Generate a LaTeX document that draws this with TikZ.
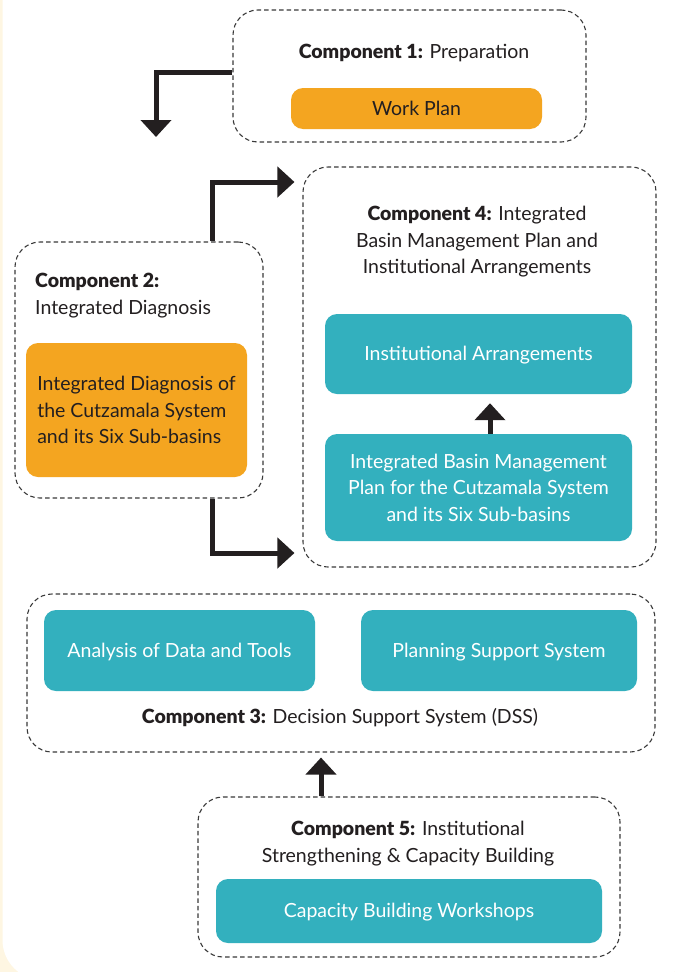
\documentclass[tikz,border=0pt]{standalone}
\usepackage{fontspec}
\setmainfont{Lato}[BoldFont={Lato Black}]
\usetikzlibrary{arrows.meta,calc}
\definecolor{cream}{HTML}{FEF6E2}
\definecolor{orng}{HTML}{F4A520}
\definecolor{teal2}{HTML}{33B0BE}
\definecolor{ink}{HTML}{231F20}
\definecolor{dashcol}{HTML}{3A3A3A}
\tikzset{
  txt/.style={font=\fontsize{19.5}{26.5}\selectfont},
  comp/.style={draw=dashcol, dash pattern=on 4.5pt off 3pt, line width=1.1pt, rounded corners=25pt, fill=white, inner sep=0pt},
  obox/.style={txt, fill=orng, rounded corners=12pt, text=ink, inner sep=0pt},
  tbox/.style={txt, fill=teal2, rounded corners=12pt, text=white, inner sep=0pt, align=center},
  oneline/.style={text height=13pt, text depth=0pt},
  flow/.style={draw=ink, line width=5pt, line join=miter, -{Triangle[width=30pt,length=17pt]}},
  ttl/.style={txt, text=ink, align=center, inner sep=0pt},
}
\begin{document}
\begin{tikzpicture}[x=1pt,y=-1pt]
\useasboundingbox (0,0) rectangle (675,972);
\fill[cream] (0,0) rectangle (675,972);
\fill[white, rounded corners=40pt] (2.5,-60) rectangle (690,980);
% Component 1
\node[comp, minimum width=353pt, minimum height=132pt] (c1) at (409.5,76) {};
\node[ttl] (c1t) at (414,53) {\textbf{Component 1:} Preparation};
\node[obox, oneline, minimum width=251pt, minimum height=41pt] (wp) at (416.5,108.5) {Work Plan};
% Component 4
\node[comp, minimum width=353pt, minimum height=400pt] (c4) at (479.5,367) {};
\node[ttl] (c4t) at (477,242) {\textbf{Component 4:} Integrated\\Basin Management Plan and\\Institutional Arrangements};
\node[tbox, oneline, minimum width=307pt, minimum height=80pt] (ia) at (478.5,354) {Institutional Arrangements};
\node[tbox, minimum width=307pt, minimum height=107pt] (ibmp) at (478.5,487.5) {Integrated Basin Management\\Plan for the Cutzamala System\\and its Six Sub-basins};
% Component 2
\node[comp, minimum width=248pt, minimum height=256pt] (c2) at (139,370) {};
\node[ttl, anchor=west, align=left] (c2t) at (35,295.5) {\textbf{Component 2:}\\Integrated Diagnosis};
\node[obox, align=left, minimum width=221pt, minimum height=134pt] (diag) at (136.5,410) {Integrated Diagnosis of\\the Cutzamala System\\and its Six Sub-basins};
% Component 3
\node[comp, minimum width=628pt, minimum height=158pt] (c3) at (341,673) {};
\node[tbox, oneline, minimum width=271pt, minimum height=81pt] (ad) at (179.5,650.5) {Analysis of Data and Tools};
\node[tbox, oneline, minimum width=276pt, minimum height=81pt] (pss) at (499,650.5) {Planning Support System};
\node[ttl] (c3t) at (340,717.5) {\textbf{Component 3:} Decision Support System (DSS)};
% Component 5
\node[comp, minimum width=422pt, minimum height=160pt] (c5) at (409,877) {};
\node[ttl] (c5t) at (408,843.5) {\textbf{Component 5:} Institutional\\Strengthening \& Capacity Building};
\node[tbox, oneline, minimum width=386pt, minimum height=64pt] (cbw) at (409,911) {Capacity Building Workshops};
% connectors
\coordinate (t1) at (156,137);
\coordinate (k2) at (212,182);
\coordinate (k3) at (212,553);
\coordinate (k4) at (490,0);
\coordinate (k5) at (321,0);
\draw[flow] ($(c1.west)+(0,-4)$) -| (t1);
\draw[flow] (c2.north -| k2) |- ($(c4.west |- k2)+(-8,0)$);
\draw[flow] (c2.south -| k3) |- ($(c4.west |- k3)+(-8,0)$);
\draw[flow] (ibmp.north -| k4) -- ($(ia.south -| k4)+(0,9)$);
\draw[flow] (c5.north -| k5) -- ($(c3.south -| k5)+(0,5)$);
\end{tikzpicture}
\end{document}
